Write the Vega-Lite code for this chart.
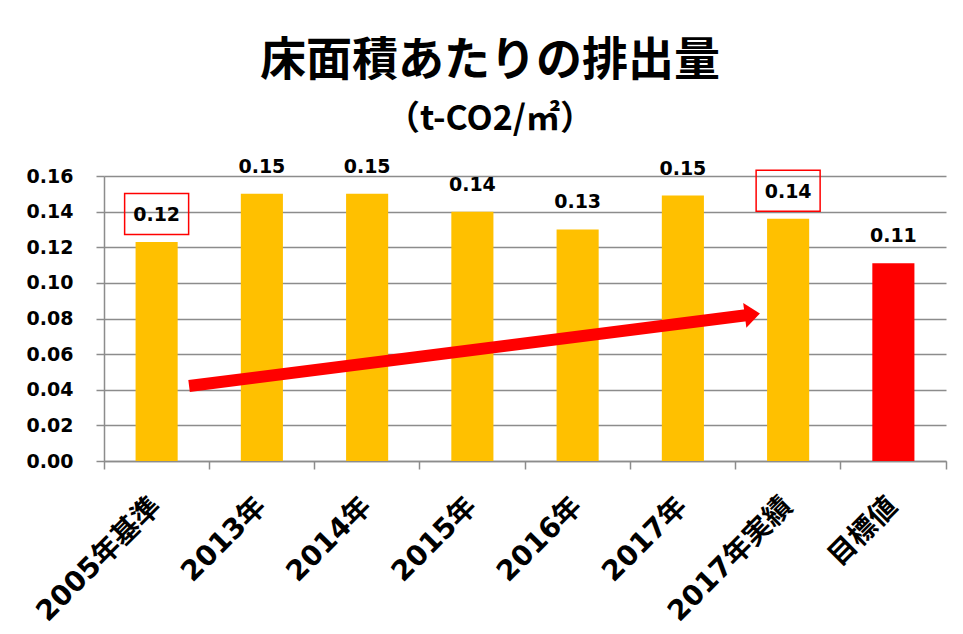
{
  "$schema": "https://vega.github.io/schema/vega-lite/v6.json",
  "autosize": {"type": "none"},
  "padding": {"left": 104, "top": 176, "right": 17, "bottom": 173},
  "width": 842,
  "height": 285,
  "background": "white",
  "title": {
    "text": "床面積あたりの排出量",
    "subtitle": "（t-CO2/㎡）",
    "anchor": "middle",
    "frame": "group",
    "dx": -35,
    "offset": 20,
    "font": "Noto Sans CJK JP",
    "fontSize": 46,
    "fontWeight": "bold",
    "color": "#000000",
    "subtitleFont": "Noto Sans CJK JP",
    "subtitleFontSize": 34,
    "subtitleFontWeight": "bold",
    "subtitleColor": "#000000",
    "subtitlePadding": 18
  },
  "config": {
    "view": {"stroke": null},
    "axis": {
      "labelFont": "DejaVu Sans, Noto Sans CJK JP",
      "labelFontWeight": "bold",
      "labelColor": "#000000",
      "domainColor": "#8c8c8c",
      "tickColor": "#8c8c8c",
      "gridColor": "#8c8c8c",
      "domainWidth": 1.5,
      "tickWidth": 1.5,
      "gridWidth": 1.5
    }
  },
  "resolve": {"scale": {"x": "independent"}},
  "layer": [
    {
      "data": {
        "values": [
          {"year": "2005年基準", "value": 0.123, "kind": "実績", "boxed": "yes"},
          {"year": "2013年", "value": 0.150, "kind": "実績", "boxed": "no"},
          {"year": "2014年", "value": 0.150, "kind": "実績", "boxed": "no"},
          {"year": "2015年", "value": 0.140, "kind": "実績", "boxed": "no"},
          {"year": "2016年", "value": 0.130, "kind": "実績", "boxed": "no"},
          {"year": "2017年", "value": 0.149, "kind": "実績", "boxed": "no"},
          {"year": "2017年実績", "value": 0.136, "kind": "実績", "boxed": "yes"},
          {"year": "目標値", "value": 0.111, "kind": "目標", "boxed": "no"}
        ]
      },
      "encoding": {
        "x": {
          "field": "year",
          "type": "nominal",
          "sort": null,
          "scale": {"paddingInner": 0, "paddingOuter": 0},
          "axis": {
            "title": null,
            "bandPosition": 0,
            "labelAngle": -45,
            "labelAlign": "right",
            "labelBaseline": "middle",
            "labelFontSize": 28,
            "labelPadding": 33,
            "tickSize": 8,
            "domain": true
          }
        },
        "y": {
          "field": "value",
          "type": "quantitative",
          "scale": {"domain": [0, 0.16], "nice": false},
          "axis": {
            "title": null,
            "values": [0, 0.02, 0.04, 0.06, 0.08, 0.1, 0.12, 0.14, 0.16],
            "format": ".2f",
            "labelFontSize": 19,
            "labelPadding": 23,
            "labelOverlap": false,
            "tickSize": 8,
            "grid": true
          }
        }
      },
      "layer": [
        {
          "mark": {"type": "bar", "width": {"band": 0.4}},
          "encoding": {
            "color": {
              "field": "kind",
              "type": "nominal",
              "scale": {"domain": ["実績", "目標"], "range": ["#FFC000", "#FF0000"]},
              "legend": null
            }
          }
        },
        {
          "mark": {
            "type": "text",
            "dy": -27,
            "baseline": "middle",
            "font": "DejaVu Sans",
            "fontWeight": "bold",
            "fontSize": 19,
            "color": "#000000"
          },
          "encoding": {"text": {"field": "value", "type": "quantitative", "format": ".2f"}}
        },
        {
          "transform": [{"filter": "datum.boxed === 'yes'"}],
          "mark": {
            "type": "point",
            "shape": "M -1 -1.516 L 1 -1.516 L 1 -0.234 L -1 -0.234 Z",
            "size": 4096,
            "filled": false,
            "stroke": "#FF0000",
            "strokeWidth": 1.5,
            "opacity": 1
          }
        }
      ]
    },
    {
      "data": {"values": [{"x0": 0.808, "y0": 0.0421, "x1": 6.10, "y1": 0.0818}]},
      "encoding": {
        "x": {
          "field": "x0",
          "type": "quantitative",
          "scale": {"domain": [0, 8], "nice": false, "zero": false},
          "axis": {"orient": "bottom", "title": null, "values": [8], "labels": false, "domain": false, "grid": false, "tickSize": 8}
        }
      },
      "layer": [
        {
          "mark": {"type": "rule", "color": "#FF0000", "strokeWidth": 12, "strokeCap": "butt"},
          "encoding": {
            "x2": {"field": "x1"},
            "y": {
              "field": "y0",
              "type": "quantitative",
              "scale": {"domain": [0, 0.16], "nice": false},
              "axis": {
                "title": null,
                "values": [0, 0.02, 0.04, 0.06, 0.08, 0.1, 0.12, 0.14, 0.16],
                "format": ".2f",
                "labelFontSize": 19,
                "labelPadding": 23,
                "labelOverlap": false,
                "tickSize": 8,
                "grid": true
              }
            },
            "y2": {"field": "y1"}
          }
        },
        {
          "mark": {
            "type": "point",
            "shape": "M -0.1 -1 L 1.12 0 L -0.1 1 Z",
            "size": 625,
            "filled": true,
            "color": "#FF0000",
            "opacity": 1,
            "angle": 352.77
          },
          "encoding": {
            "x": {"field": "x1", "type": "quantitative"},
            "y": {
              "field": "y1",
              "type": "quantitative",
              "scale": {"domain": [0, 0.16], "nice": false},
              "axis": {
                "title": null,
                "values": [0, 0.02, 0.04, 0.06, 0.08, 0.1, 0.12, 0.14, 0.16],
                "format": ".2f",
                "labelFontSize": 19,
                "labelPadding": 23,
                "labelOverlap": false,
                "tickSize": 8,
                "grid": true
              }
            }
          }
        }
      ]
    }
  ]
}
